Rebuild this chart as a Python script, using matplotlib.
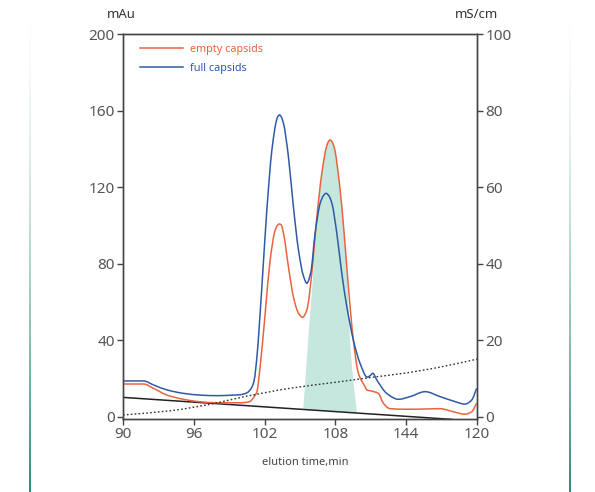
"""Chromatogram of empty vs full capsids with conductivity trace."""
import matplotlib
matplotlib.use("Agg")
import matplotlib.pyplot as plt
from matplotlib.lines import Line2D
from matplotlib.patches import PathPatch
from matplotlib.path import Path
import numpy as np

plt.rcParams["font.family"] = ["Noto Sans", "DejaVu Sans"]

# ---- data (time in min, absorbance in mAu) ----
FULL_T = [90.0, 91.74, 92.59, 93.73, 95.13, 96.54, 97.96, 99.36, 99.93, 100.50,
          100.92, 101.12, 101.35, 101.77, 102.19, 102.62, 102.98, 103.12, 103.26,
          103.42, 103.60, 104.02, 104.44, 104.87, 105.29, 105.58, 105.92, 106.28,
          106.71, 107.0, 107.21, 107.45, 107.70, 108.12, 108.54, 108.97, 109.52,
          110.09, 110.70, 110.95, 111.17, 111.51, 112.35, 113.34, 114.33, 115.60,
          116.87, 117.99, 118.98, 119.55, 119.97]
FULL_V = [18.6, 18.6, 16.5, 13.9, 12.1, 11.2, 10.9, 11.2, 11.4, 12.4,
          15.3, 19.1, 31.3, 67.9, 108.0, 139.4, 154.1, 156.8, 157.7,
          156.6, 153.3, 135.8, 109.7, 87.1, 73.5, 69.7, 75.5, 95.8,
          111.5, 115.6, 116.7, 115.4, 111.5, 95.8, 74.9, 57.4, 40.0,
          27.8, 20.6, 21.4, 22.6, 19.1, 12.1, 9.0, 10.4, 13.0,
          10.4, 8.1, 6.5, 8.6, 14.7]

EMPTY_T = [90.0, 91.74, 92.59, 93.73, 95.13, 96.54, 97.96, 99.36, 100.0, 100.70,
           101.12, 101.35, 101.62, 102.05, 102.47, 102.90, 103.10, 103.26, 103.42,
           103.60, 104.02, 104.44, 104.87, 105.21, 105.58, 106.00, 106.43, 106.85,
           107.21, 107.40, 107.55, 107.72, 107.92, 108.34, 108.74, 109.10, 109.52,
           109.95, 110.51, 110.66, 111.08, 111.64, 112.07, 112.63, 114.05, 115.45,
           116.87, 117.99, 118.98, 119.55, 119.97]
EMPTY_V = [17.0, 17.0, 14.7, 11.2, 9.0, 7.7, 7.2, 7.2, 7.2, 7.7,
           10.4, 13.0, 26.0, 54.0, 81.8, 97.5, 100.0, 100.7, 100.0,
           95.8, 78.3, 62.6, 54.0, 51.9, 55.7, 74.9, 104.5, 127.2,
           140.2, 143.6, 144.6, 143.6, 140.2, 121.9, 95.8, 67.9, 40.0,
           22.6, 15.6, 13.9, 13.3, 12.1, 6.9, 4.1, 3.8, 3.9,
           4.1, 2.5, 1.2, 2.5, 6.9]

# collected fraction (upper edge of the shaded area), mAu
FRACTION_T = [105.29, 105.75, 106.20, 106.43, 106.85, 107.21, 107.40, 107.55,
              107.72, 107.92, 108.34, 108.74, 109.05, 109.24, 109.50, 109.82]
FRACTION_V = [5.0, 45.0, 82.0, 104.5, 127.2, 140.2, 143.6, 144.6,
              143.6, 140.2, 121.9, 95.8, 66.0, 40.0, 20.0, 2.5]

# UV baseline (solid black)
BASE_T = [90.0, 117.86]
BASE_V = [10.0, -1.5]

# conductivity, mS/cm (dotted, right axis)
COND_T = [90.0, 94.0, 97.7, 100.0, 104.2, 108.4, 111.0, 114.0, 117.0, 120.0]
COND_V = [0.4, 1.5, 3.4, 5.0, 7.4, 9.1, 10.2, 11.4, 13.0, 15.0]

X_TICKS = [90, 96, 102, 108, 114, 120]
X_LABELS = ["90", "96", "102", "108", "144", "120"]
Y_TICKS = [0, 40, 80, 120, 160, 200]
Y2_TICKS = [0, 20, 40, 60, 80, 100]

EMPTY_COLOR = "#e8643c"
FULL_COLOR = "#2f5aa8"
FILL_COLOR = "#c6e7de"
AXIS_COLOR = "#444444"
TEXT_COLOR = "#555555"


def _pchip_slopes(x, y):
    """Shape-preserving (Fritsch-Carlson) tangents, so peaks don't overshoot."""
    h = np.diff(x)
    d = np.diff(y) / h
    m = np.zeros_like(y)
    m[0], m[-1] = d[0], d[-1]
    for k in range(1, len(x) - 1):
        if d[k - 1] * d[k] <= 0:
            continue
        w1 = 2 * h[k] + h[k - 1]
        w2 = h[k] + 2 * h[k - 1]
        m[k] = (w1 + w2) / (w1 / d[k - 1] + w2 / d[k])
    return m


def smooth_path_verts(x, y):
    """Cubic Bezier segments through the read points (drawing only)."""
    x = np.asarray(x, float)
    y = np.asarray(y, float)
    m = _pchip_slopes(x, y)
    verts = [(x[0], y[0])]
    codes = [Path.MOVETO]
    for k in range(len(x) - 1):
        h = (x[k + 1] - x[k]) / 3
        verts += [(x[k] + h, y[k] + m[k] * h),
                  (x[k + 1] - h, y[k + 1] - m[k + 1] * h),
                  (x[k + 1], y[k + 1])]
        codes += [Path.CURVE4] * 3
    return verts, codes


def smooth_line(ax, x, y, **kw):
    verts, codes = smooth_path_verts(x, y)
    ax.add_patch(PathPatch(Path(verts, codes), fill=False, **kw))


fig = plt.figure(figsize=(5.95, 4.92), dpi=100)
fig.patch.set_facecolor("white")

# decorative vertical rules fading out towards the top
grad = np.linspace(0, 1, 256)[:, None] ** 1.6
teal = np.array([0x2f, 0x8c, 0x74]) / 255.0
for xpx in (29.5, 569.5):
    rax = fig.add_axes([(xpx - 1) / 595, 0.0, 2 / 595, 1.0])
    rgb = np.ones((256, 1, 3))
    rgb[:, 0, :] = 1 - grad * (1 - teal)
    rax.imshow(rgb, aspect="auto", origin="upper", extent=(0, 1, 0, 1))
    rax.set_axis_off()

ax = fig.add_axes([123 / 595, 1 - 419 / 492, 354 / 595, 385 / 492])
ax2 = ax.twinx()

# shaded fraction: smooth top edge, closed along the baseline
verts, codes = smooth_path_verts(FRACTION_T, FRACTION_V)
base_end = np.interp([FRACTION_T[-1], FRACTION_T[0]], BASE_T, BASE_V)
verts += [(FRACTION_T[-1], base_end[0]), (FRACTION_T[0], base_end[1]),
          (FRACTION_T[0], base_end[1])]
codes += [Path.LINETO, Path.LINETO, Path.CLOSEPOLY]
ax.add_patch(PathPatch(Path(verts, codes), facecolor=FILL_COLOR,
                       edgecolor="none", zorder=1))

ax.plot(BASE_T, BASE_V, color="#222222", linewidth=1.1, zorder=2)
smooth_line(ax, EMPTY_T, EMPTY_V, edgecolor=EMPTY_COLOR, linewidth=1.1, zorder=3)
smooth_line(ax, FULL_T, FULL_V, edgecolor=FULL_COLOR, linewidth=1.1, zorder=4)
smooth_line(ax2, COND_T, COND_V, edgecolor="#333333", linewidth=1.0,
            linestyle=(0, (1.2, 1.6)))

ax.set_xlim(90, 120)
ax.set_ylim(-1.3, 200)
ax2.set_ylim(-0.65, 100)
ax.set_xticks(X_TICKS, X_LABELS)
ax.set_yticks(Y_TICKS)
ax2.set_yticks(Y2_TICKS)

for a in (ax, ax2):
    for sp in a.spines.values():
        sp.set_color(AXIS_COLOR)
        sp.set_linewidth(1.0)
    a.tick_params(direction="out", length=4, width=1.0, color=AXIS_COLOR,
                  labelcolor=TEXT_COLOR, labelsize=11, pad=2)

handles = [Line2D([], [], color=EMPTY_COLOR, linewidth=1.1),
           Line2D([], [], color=FULL_COLOR, linewidth=1.1)]
ax.legend(handles, ["empty capsids", "full capsids"], loc="upper left",
          bbox_to_anchor=(0.035, 0.985), frameon=False, handlelength=4.0,
          handletextpad=0.6, labelspacing=0.75, fontsize=7.8,
          labelcolor="linecolor", borderaxespad=0)

fig.text(107 / 595, 1 - 15 / 492, "mAu", fontsize=9.5, color="#333333",
         ha="left", va="center")
fig.text(498 / 595, 1 - 15 / 492, "mS/cm", fontsize=9.5, color="#333333",
         ha="right", va="center")
fig.text(305 / 595, 1 - 463 / 492, "elution time,min", fontsize=8,
         color="#444444", ha="center", va="center")

fig.savefig("out.png", dpi=100, facecolor="white")
